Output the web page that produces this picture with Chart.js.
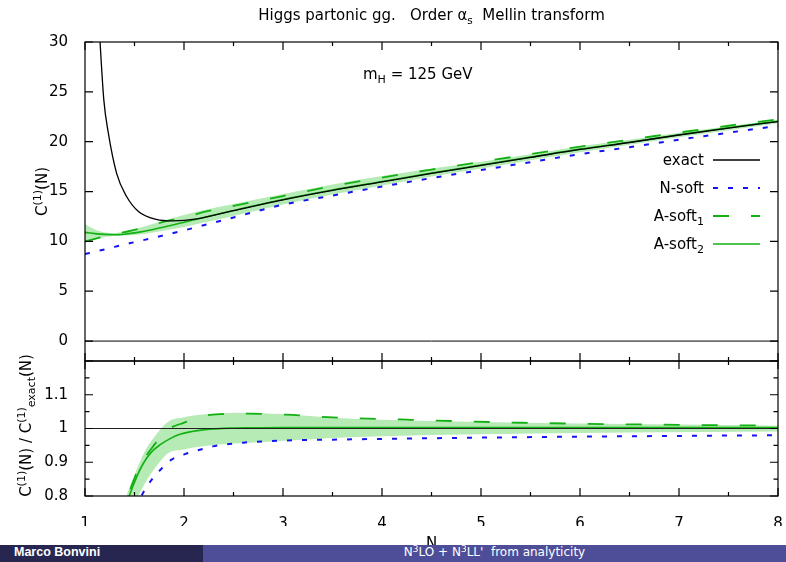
<!DOCTYPE html>
<html lang="en">
<head>
  <meta charset="UTF-8">
  <title>Higgs partonic gg - Order as Mellin transform</title>
  <script src="https://cdn.jsdelivr.net/npm/chart.js"></script>
  <style>
    body { margin: 0; background: #fff; }
    #wrap { position: relative; width: 786px; height: 562px; overflow: hidden; }
    #chart { position: absolute; left: 0; top: 0; }
    .footer { position: absolute; top: 545px; height: 17px; line-height: 17px; color: #fff; white-space: nowrap; }
    #author { left: 0; width: 189px; padding-left: 14px; background: #262650; font: bold 12.5px "Liberation Sans", sans-serif; }
    #talk { left: 203px; width: 583px; text-align: center; background: #4e4e98; font: 12px "DejaVu Sans", sans-serif; }
    #talk sup { font-size: 9px; vertical-align: 0; position: relative; top: -4px; }
  </style>
</head>
<body>
  <div id="wrap">
    <canvas id="chart" width="786" height="562"></canvas>
    <div class="footer" id="author">Marco Bonvini</div>
    <div class="footer" id="talk">N<sup>3</sup>LO + N<sup>3</sup>LL'&nbsp; from analyticity</div>
  </div>

  <script>
    // upper panel: C(1)(N)
    const nTop = [1, 1.1, 1.2, 1.3, 1.4, 1.5, 1.6, 1.8, 2, 2.25, 2.5, 3, 3.5, 4, 4.5, 5, 5.5, 6, 6.5, 7, 7.5, 8];
    const aSoft2Top = [10.9, 10.78, 10.7, 10.67, 10.72, 10.85, 11.02, 11.45, 11.92, 12.52, 13.1, 14.2, 15.15, 16.0, 16.85, 17.65, 18.45, 19.25, 19.95, 20.7, 21.4, 22.05];
    const aSoft1Top = [9.97, 10.25, 10.5, 10.72, 10.93, 11.15, 11.4, 11.97, 12.42, 13.05, 13.55, 14.55, 15.55, 16.4, 17.2, 17.98, 18.75, 19.5, 20.2, 20.92, 21.6, 22.25];
    const nSoftTop = [8.73, 8.97, 9.2, 9.45, 9.7, 9.92, 10.15, 10.62, 11.1, 11.75, 12.4, 13.68, 14.6, 15.5, 16.35, 17.15, 17.95, 18.75, 19.45, 20.2, 20.9, 21.6];
    const bandTopUp = [11.75, 11.2, 10.9, 10.85, 11.0, 11.25, 11.5, 12.1, 12.65, 13.25, 13.75, 14.75, 15.7, 16.55, 17.3, 18.0, 18.75, 19.55, 20.2, 20.9, 21.55, 22.2];
    const bandTopLo = [9.85, 10.2, 10.45, 10.55, 10.6, 10.65, 10.75, 11.1, 11.45, 12.0, 12.55, 13.7, 14.7, 15.6, 16.5, 17.3, 18.15, 18.95, 19.7, 20.45, 21.15, 21.85];
    const nExact = [1.12, 1.152, 1.19, 1.235, 1.32, 1.42, 1.54, 1.72, 1.89, 2.13, 2.5, 3, 3.5, 4, 4.5, 5, 5.5, 6, 6.5, 7, 7.5, 8];
    const exactTop = [35.5, 30, 24.2, 20.9, 16.8, 14.5, 13.0, 12.2, 12.05, 12.25, 13.08, 14.17, 15.12, 15.97, 16.82, 17.62, 18.42, 19.22, 19.92, 20.67, 21.37, 22.02];
    const nEnds = [1, 8];
    const zeroTop = [0, 0];

    // lower panel: C(1)(N) / C(1)exact(N)
    const exactRatio = [1, 1];
    const nR2 = [1.3, 1.4, 1.447, 1.52, 1.59, 1.67, 1.76, 1.86, 1.96, 2.08, 2.19, 2.32, 2.46, 2.7, 3, 4, 5, 6, 7, 8];
    const aSoft2Ratio = [0.62, 0.755, 0.8, 0.855, 0.897, 0.93, 0.952, 0.97, 0.983, 0.991, 0.996, 0.999, 1.001, 1.002, 1.003, 1.003, 1.003, 1.003, 1.003, 1.003];
    const nR1 = [1.3, 1.39, 1.437, 1.51, 1.59, 1.67, 1.75, 1.84, 1.92, 1.99, 2.1, 2.23, 2.4, 2.6, 3.03, 3.5, 4.25, 5.42, 6.6, 7.78, 8];
    const aSoft1Ratio = [0.6, 0.75, 0.8, 0.86, 0.907, 0.94, 0.97, 0.998, 1.009, 1.016, 1.028, 1.039, 1.043, 1.044, 1.041, 1.033, 1.026, 1.017, 1.012, 1.009, 1.0085];
    const nR0 = [1.45, 1.57, 1.66, 1.76, 1.87, 2.01, 2.16, 2.29, 2.6, 2.97, 3.5, 5.02, 6.5, 8];
    const nSoftRatio = [0.72, 0.8, 0.843, 0.877, 0.907, 0.924, 0.937, 0.947, 0.958, 0.964, 0.967, 0.973, 0.977, 0.98];
    const nRB = [1.3, 1.42, 1.52, 1.6, 1.7, 1.84, 2.0, 2.13, 2.3, 2.46, 2.63, 2.97, 3.5, 4, 5, 6.5, 8];
    const bandRatioUp = [0.66, 0.8, 0.877, 0.93, 0.975, 1.02, 1.033, 1.04, 1.044, 1.046, 1.047, 1.043, 1.032, 1.026, 1.019, 1.013, 1.008];
    const bandRatioLo = [0.55, 0.72, 0.79, 0.835, 0.88, 0.927, 0.938, 0.945, 0.951, 0.955, 0.957, 0.963, 0.972, 0.977, 0.983, 0.988, 0.991];

    // ticks
    const xMajor = [1, 2, 3, 4, 5, 6, 7, 8];
    const xMinor = [1.5, 2.5, 3.5, 4.5, 5.5, 6.5, 7.5];
    const yTopMajor = [0, 5, 10, 15, 20, 25, 30];
    const yBotMajor = [0.8, 0.9, 1, 1.1, 1.2];
    const yBotMinor = [0.85, 0.95, 1.05, 1.15];
    const yBotLabels = [0.8, 0.9, 1, 1.1];

    const GREEN = '#12b012';
    const BLUE = '#1414f0';
    const BAND = '#b6ebb6';
    const FONT = '"DejaVu Sans", sans-serif';

    const pts = (xs, ys) => xs.map((x, i) => ({ x: x, y: ys[i] }));

    function line(label, xs, ys, axis, color, width, dash, order) {
      return {
        label: label, data: pts(xs, ys), yAxisID: axis,
        borderColor: color, borderWidth: width, borderDash: dash,
        pointRadius: 0, fill: false, cubicInterpolationMode: 'monotone', order: order
      };
    }
    function band(xs, ys, axis, fill) {
      return {
        label: 'band', data: pts(xs, ys), yAxisID: axis,
        borderWidth: 0, borderColor: 'rgba(0,0,0,0)', backgroundColor: BAND,
        pointRadius: 0, fill: fill, cubicInterpolationMode: 'monotone', order: 10
      };
    }

    // write text with sub/superscripts: parts = [text, size, dy]
    function rich(ctx, parts, x, y, align) {
      let w = 0;
      parts.forEach(p => { ctx.font = p[1] + 'px ' + FONT; w += ctx.measureText(p[0]).width; });
      let cx = align === 'center' ? x - w / 2 : (align === 'right' ? x - w : x);
      parts.forEach(p => {
        ctx.font = p[1] + 'px ' + FONT;
        ctx.fillText(p[0], cx, y + (p[2] || 0));
        cx += ctx.measureText(p[0]).width;
      });
    }

    const frame = {
      id: 'frame',
      afterDatasetsDraw(chart) {
        const { ctx, chartArea: ca, scales } = chart;
        const x = scales.x;
        ctx.save();
        ctx.strokeStyle = '#000';
        ctx.lineWidth = 1.2;
        [[scales.yTop, yTopMajor, []], [scales.yBot, yBotMajor, yBotMinor]].forEach(([s, maj, min]) => {
          ctx.strokeRect(ca.left, s.top, ca.right - ca.left, s.bottom - s.top);
          ctx.beginPath();
          const xt = (v, len) => {
            const px = x.getPixelForValue(v);
            ctx.moveTo(px, s.top); ctx.lineTo(px, s.top + len);
            ctx.moveTo(px, s.bottom); ctx.lineTo(px, s.bottom - len);
          };
          const yt = (v, len) => {
            const py = s.getPixelForValue(v);
            ctx.moveTo(ca.left, py); ctx.lineTo(ca.left + len, py);
            ctx.moveTo(ca.right, py); ctx.lineTo(ca.right - len, py);
          };
          xMajor.forEach(v => xt(v, 8));
          xMinor.forEach(v => xt(v, 4));
          maj.forEach(v => yt(v, 8));
          min.forEach(v => yt(v, 4.5));
          ctx.stroke();
        });
        ctx.restore();
      },
      afterDraw(chart) {
        const { ctx, chartArea: ca, scales } = chart;
        const mid = (ca.left + ca.right) / 2;
        ctx.save();
        ctx.fillStyle = '#000';
        ctx.textAlign = 'left';
        ctx.textBaseline = 'alphabetic';

        rich(ctx, [['Higgs partonic gg.   Order \u03b1', 15], ['s', 10.5, 4], ['  Mellin transform', 15]], mid, 20, 'center');
        rich(ctx, [['m', 15], ['H', 11, 4], [' = 125 GeV', 15]], 363, 79, 'left');
        rich(ctx, [['N', 15]], mid, 548, 'center');

        // y titles
        const yt = scales.yTop, yb = scales.yBot;
        ctx.save();
        ctx.translate(47, (yt.top + yt.bottom) / 2 - 10);
        ctx.rotate(-Math.PI / 2);
        rich(ctx, [['C', 15], ['(1)', 11, -6], ['(N)', 15]], 0, 0, 'center');
        ctx.restore();
        ctx.save();
        ctx.translate(31, (yb.top + yb.bottom) / 2 - 3);
        ctx.rotate(-Math.PI / 2);
        rich(ctx, [['C', 15], ['(1)', 11, -6], ['(N) / C', 15], ['(1)', 11, -6], ['exact', 11, 4], ['(N)', 15]], 0, 0, 'center');
        ctx.restore();

        // legend
        const entries = [
          [[['exact', 15]], '#000', 1.3, []],
          [[['N-soft', 15]], BLUE, 2, [5, 10]],
          [[['A-soft', 15], ['1', 11, 4]], GREEN, 1.8, [16, 22]],
          [[['A-soft', 15], ['2', 11, 4]], GREEN, 1.6, []]
        ];
        entries.forEach((e, i) => {
          const y = 160 + i * 28;
          rich(ctx, e[0], ca.right - 74, y + 5, 'right');
          ctx.beginPath();
          ctx.strokeStyle = e[1];
          ctx.lineWidth = e[2];
          ctx.setLineDash(e[3]);
          ctx.moveTo(ca.right - 65, y);
          ctx.lineTo(ca.right - 18, y);
          ctx.stroke();
        });
        ctx.restore();
      }
    };

    const tickFont = { family: FONT, size: 15 };

    new Chart(document.getElementById('chart'), {
      type: 'line',
      data: {
        datasets: [
          band(nTop, bandTopUp, 'yTop', '+1'),
          band(nTop, bandTopLo, 'yTop', false),
          band(nRB, bandRatioUp, 'yBot', '+1'),
          band(nRB, bandRatioLo, 'yBot', false),
          line('exact', nExact, exactTop, 'yTop', '#000', 1.3, [], 1),
          line('N-soft', nTop, nSoftTop, 'yTop', BLUE, 2, [5, 10], 4),
          line('A-soft1', nTop, aSoft1Top, 'yTop', GREEN, 1.8, [16, 22], 3),
          line('A-soft2', nTop, aSoft2Top, 'yTop', GREEN, 1.6, [], 2),
          line('zero', nEnds, zeroTop, 'yTop', '#000', 1, [], 5),
          line('exact ratio', nEnds, exactRatio, 'yBot', '#222', 1.2, [], 1),
          line('N-soft ratio', nR0, nSoftRatio, 'yBot', BLUE, 2, [5, 10], 4),
          line('A-soft1 ratio', nR1, aSoft1Ratio, 'yBot', GREEN, 1.8, [16, 22], 3),
          line('A-soft2 ratio', nR2, aSoft2Ratio, 'yBot', GREEN, 1.6, [], 2)
        ]
      },
      options: {
        responsive: false,
        animation: false,
        devicePixelRatio: 1,
        layout: { padding: { top: 42, right: 8, bottom: 36, left: 0 } },
        plugins: { legend: { display: false }, tooltip: { enabled: false } },
        scales: {
          x: {
            type: 'linear', min: 1, max: 8,
            afterBuildTicks: s => { s.ticks = xMajor.map(v => ({ value: v })); },
            afterFit: s => { s.height = 30; s.paddingLeft = 0; s.paddingRight = 0; },
            ticks: { font: tickFont, color: '#000', padding: 11, maxRotation: 0 },
            grid: { display: false }, border: { display: false }
          },
          yTop: {
            type: 'linear', position: 'left', stack: 'panels', stackWeight: 319, weight: 1,
            min: -2, max: 30,
            afterBuildTicks: s => { s.ticks = yTopMajor.map(v => ({ value: v })); },
            afterFit: s => { s.width = 85; s.paddingTop = 0; s.paddingBottom = 0; },
            ticks: { font: tickFont, color: '#000', padding: 9 },
            grid: { display: false }, border: { display: false }
          },
          yBot: {
            type: 'linear', position: 'left', stack: 'panels', stackWeight: 135, weight: 0,
            min: 0.8, max: 1.2,
            afterBuildTicks: s => { s.ticks = yBotLabels.map(v => ({ value: v })); },
            afterFit: s => { s.width = 85; s.paddingTop = 0; s.paddingBottom = 0; },
            ticks: { font: tickFont, color: '#000', padding: 9, callback: v => String(+v.toFixed(2)) },
            grid: { display: false }, border: { display: false }
          }
        }
      },
      plugins: [frame]
    });
  </script>
</body>
</html>
